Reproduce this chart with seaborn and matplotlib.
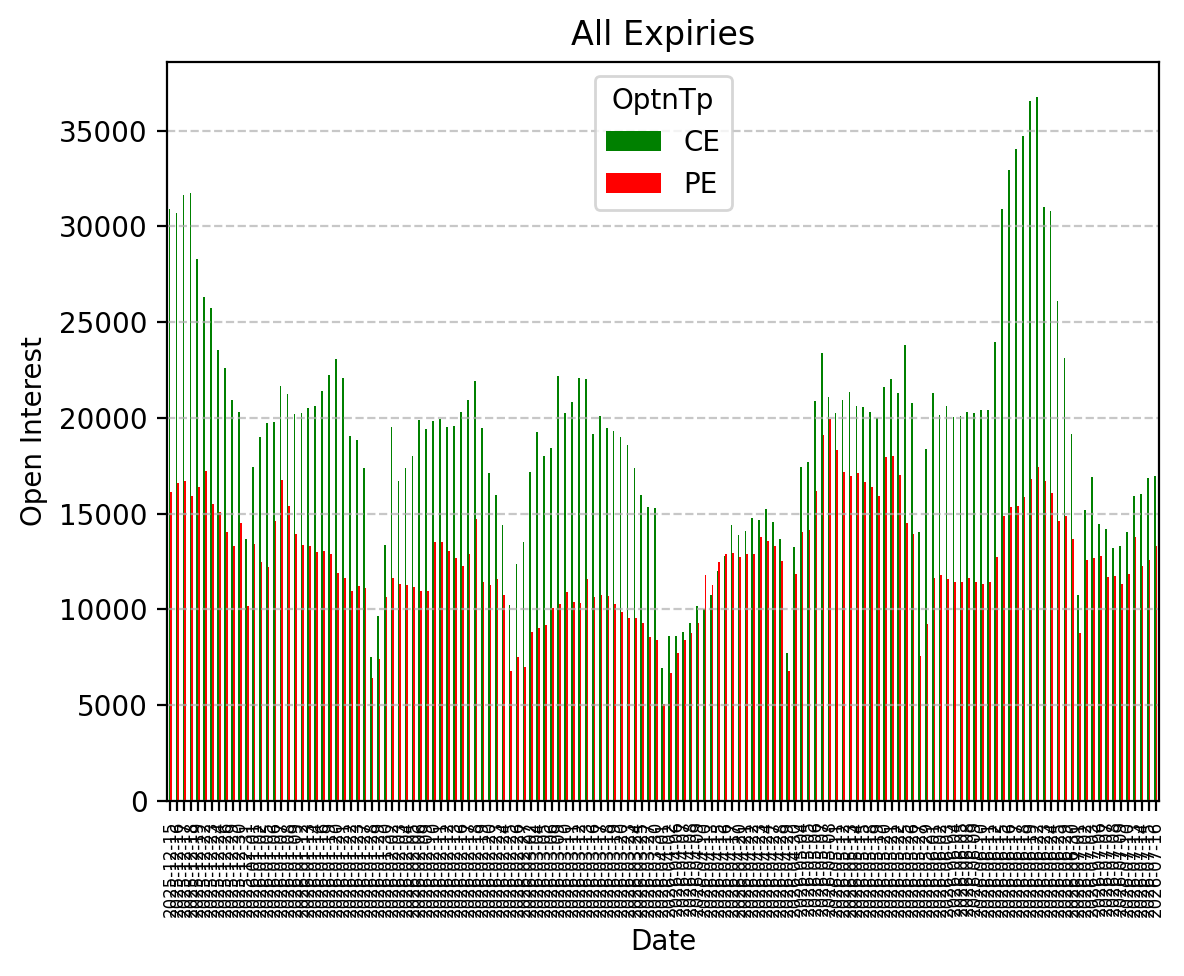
import pandas as pd
import seaborn as sns
import matplotlib.pyplot as plt

# trading days shown on the x axis
start_date = '2025-12-15'
end_date = '2026-07-16'
holidays = ['2025-12-25', '2026-01-15', '2026-01-26', '2026-03-03', '2026-03-26',
            '2026-03-31', '2026-04-03', '2026-04-14', '2026-05-01', '2026-05-28',
            '2026-06-26']

dates = pd.bdate_range(start_date, end_date, freq='C', holidays=holidays).strftime('%Y-%m-%d').tolist()

ce_oi = [30920, 30680, 31640, 31740, 28300, 26310, 25730, 23550, 22590, 20930,
         20310, 13660, 17430, 18990, 19730, 19780, 21650, 21240, 20190, 20240,
         20500, 20640, 21410, 22230, 23070, 22090, 19080, 18840, 17380, 7540,
         9670, 13350, 19520, 16730, 17380, 18010, 19890, 19430, 19850, 19960,
         19540, 19590, 20320, 20950, 21950, 19480, 17130, 15970, 14400, 10210,
         12360, 13510, 17180, 19270, 18020, 18440, 22210, 20270, 20850, 22100,
         22050, 19170, 20110, 19480, 19330, 19010, 18590, 17390, 15970, 15350,
         15290, 6970, 8590, 8590, 8800, 9320, 10160, 10000, 10740, 11990,
         12780, 14400, 13880, 14090, 14770, 14670, 15240, 14560, 13670, 7750,
         13250, 17440, 17700, 20900, 23410, 21110, 20270, 20950, 21370, 20640,
         20580, 20320, 20010, 21610, 22030, 21300, 23790, 20780, 14070, 18360,
         21300, 20140, 20610, 20040, 20090, 20310, 20240, 20410, 20410, 23960,
         30910, 32930, 34040, 34700, 36550, 36750, 31010, 30790, 26100, 23120,
         19150, 10750, 15180, 16910, 14440, 14200, 13190, 13310, 14030, 15920,
         16020, 16860, 16960]

pe_oi = [16130, 16610, 16710, 15940, 16370, 17240, 15510, 15080, 14070, 13300,
         14500, 10180, 13400, 12480, 12240, 14600, 16760, 15410, 13920, 13350,
         13300, 12990, 13080, 12920, 11930, 11620, 10950, 11210, 11140, 6430,
         7390, 10630, 11620, 11310, 11260, 11150, 10950, 10950, 13510, 13510,
         13040, 12680, 12260, 12880, 14720, 11420, 11260, 11580, 10740, 6810,
         7540, 7020, 8800, 9010, 9170, 10060, 10270, 10890, 10370, 10320,
         11580, 10630, 10740, 10680, 10270, 9850, 9530, 9530, 9320, 8540,
         8430, 5080, 6700, 7750, 8430, 8750, 9320, 11780, 11260, 12470,
         12880, 12940, 12730, 12880, 12880, 13770, 13570, 13300, 12520, 6810,
         11840, 14040, 14140, 16180, 19120, 19960, 18330, 17180, 16970, 17130,
         16660, 16390, 15920, 17950, 18000, 17010, 14490, 13930, 7570, 9220,
         11630, 11780, 11590, 11410, 11410, 11630, 11460, 11310, 11410, 12720,
         14860, 15330, 15380, 15850, 16810, 17430, 16690, 16070, 14620, 14860,
         13660, 8750, 12570, 12670, 12770, 11680, 11730, 11310, 11830, 13780,
         12250, 12570, 13310]

data = pd.DataFrame({
    'Date': dates * 2,
    'OptnTp': ['CE'] * len(dates) + ['PE'] * len(dates),
    'OI': ce_oi + pe_oi,
})

fig = plt.figure(figsize=(5.92, 4.88), dpi=200)
ax = fig.add_axes([167 / 1184, 1 - 801 / 976, 992 / 1184, 739 / 976])

sns.barplot(data=data, x='Date', y='OI', hue='OptnTp', order=dates,
            palette={'CE': 'green', 'PE': 'red'}, width=0.5, saturation=1,
            linewidth=0, errorbar=None, ax=ax)

ax.set_title('All Expiries')
ax.set_xlabel('Date')
ax.set_ylabel('Open Interest')
ax.tick_params(axis='x', labelrotation=90, labelsize=6)
ax.yaxis.grid(True, linestyle='--', alpha=0.7)
sns.move_legend(ax, 'upper center', title='OptnTp')

fig.savefig('out.png', dpi=200)
